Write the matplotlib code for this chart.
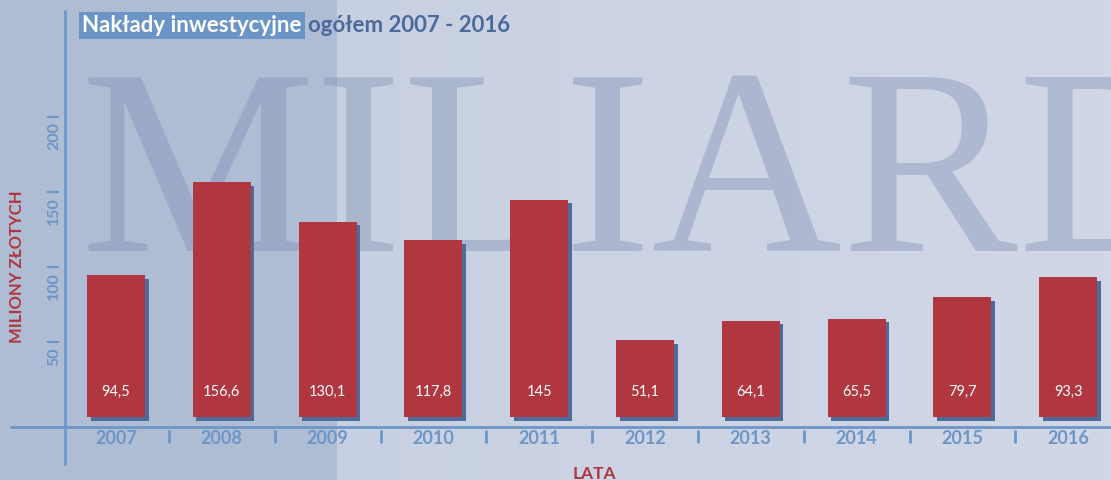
import numpy as np
import matplotlib
matplotlib.use('Agg')
import matplotlib.pyplot as plt

# Data
years = ['2007', '2008', '2009', '2010', '2011', '2012', '2013', '2014', '2015', '2016']
values = [94.5, 156.6, 130.1, 117.8, 145, 51.1, 64.1, 65.5, 79.7, 93.3]
value_labels = ['94,5', '156,6', '130,1', '117,8', '145', '51,1', '64,1', '65,5', '79,7', '93,3']
y_ticks = [50, 100, 150, 200]

plt.rcParams['font.family'] = ['Lato', 'DejaVu Sans']

W, H = 1111, 480
fig = plt.figure(figsize=(W / 100, H / 100), dpi=100)

red = '#b0363f'
shadow = '#4f6b9b'
light_blue = '#6d96c6'
dark_blue = '#4a6a9a'

# Background: darker block on the left, soft gradient on the right.
bg = fig.add_axes([0, 0, 1, 1])
bg.axis('off')
c0 = np.array([195, 205, 224]) / 255
c1 = np.array([209, 215, 231]) / 255
t = np.linspace(0, 1, 256)
grad = (c0[None, :] * (1 - t[:, None]) + c1[None, :] * t[:, None])[None, :, :]
bg.imshow(grad, extent=[0, 1, 0, 1], aspect='auto', zorder=0)
bg.add_patch(plt.Rectangle((0, 0), 337 / W, 1, color='#aebcd4', zorder=1, lw=0))
bg.set_xlim(0, 1)
bg.set_ylim(0, 1)

# Big watermark word.
bg.text(80 / W, (H - 251) / H, 'MILIARD', family='Liberation Serif',
        fontsize=190, color='#8291b3', alpha=0.42, va='baseline', ha='left',
        zorder=2)

# Main axes mapped so that one category = ~105.8 px and 1 unit = 1.5 px.
ax = fig.add_axes([0, 0, 1, 1])
ax.patch.set_visible(False)
ax.axis('off')
px_x = 105.8
px_y = 1.5
x0 = 116
y0 = 417
ax.set_xlim(-x0 / px_x, (W - x0) / px_x)
ax.set_ylim(-(H - y0) / px_y, y0 / px_y)

x = np.arange(len(years))
bw = 58 / px_x
dx = 3.5 / px_x
dy = 3.5 / px_y

ax.bar(x + dx, values, width=bw, bottom=-dy, color=shadow, zorder=3, lw=0)
ax.bar(x, values, width=bw, color=red, zorder=4, lw=0)

for xi, lab in zip(x, value_labels):
    ax.text(xi, 16.5, lab, color='white', fontsize=10.5, ha='center',
            va='center', zorder=5)

# Axis lines.
axis_y = -10 / px_y
ax.plot([(10 - x0) / px_x, (W - x0) / px_x], [axis_y, axis_y],
        color=light_blue, lw=2, zorder=5, solid_capstyle='butt')
yaxis_x = (65 - x0) / px_x
ax.plot([yaxis_x, yaxis_x], [(y0 - 465) / px_y, (y0 - 10) / px_y],
        color=light_blue, lw=2, zorder=5, solid_capstyle='butt')

# Year labels and separators.
for xi, yr in zip(x, years):
    ax.text(xi, -14.5, yr, color=light_blue, fontsize=13, fontweight='bold',
            ha='center', va='center', zorder=5)
for xi in x[:-1]:
    ax.plot([xi + 0.5, xi + 0.5], [-8.5, -17.5],
            color=light_blue, lw=2, zorder=5, solid_capstyle='butt')

# Y tick labels (rotated) with short tick marks.
tick_x = (54 - x0) / px_x
for v in y_ticks:
    ax.plot([(48 - x0) / px_x, (58 - x0) / px_x], [v, v], color=light_blue,
            lw=1.5, zorder=5)
    ax.text(tick_x, v - 5 / px_y, str(v), rotation=90, color=light_blue,
            fontsize=11.5, fontweight='bold', ha='center', va='top',
            zorder=5)

# Axis titles.
fig.text(17 / W, 1 - 267 / H, 'MILIONY ZŁOTYCH', rotation=90, color=red,
         fontsize=12, fontweight='bold', ha='center', va='center')
fig.text(594 / W, 1 - 474 / H, 'LATA', color=red, fontsize=12.5,
         fontweight='bold', ha='center', va='center')

# Title with highlighted first part.
t1 = fig.text(82 / W, 1 - 32 / H, 'Nakłady inwestycyjne', color='white',
              fontsize=16, fontweight='bold', ha='left', va='baseline',
              bbox=dict(boxstyle='square,pad=0.15', fc='#6b95c7', ec='none'))
fig.canvas.draw()
bb = t1.get_window_extent()
fig.text(bb.x1 / W + 6 / W, 1 - 32 / H, 'ogółem 2007 - 2016', color=dark_blue,
         fontsize=16, fontweight='bold', ha='left', va='baseline')

fig.savefig('out.png', dpi=100)
plt.close()
